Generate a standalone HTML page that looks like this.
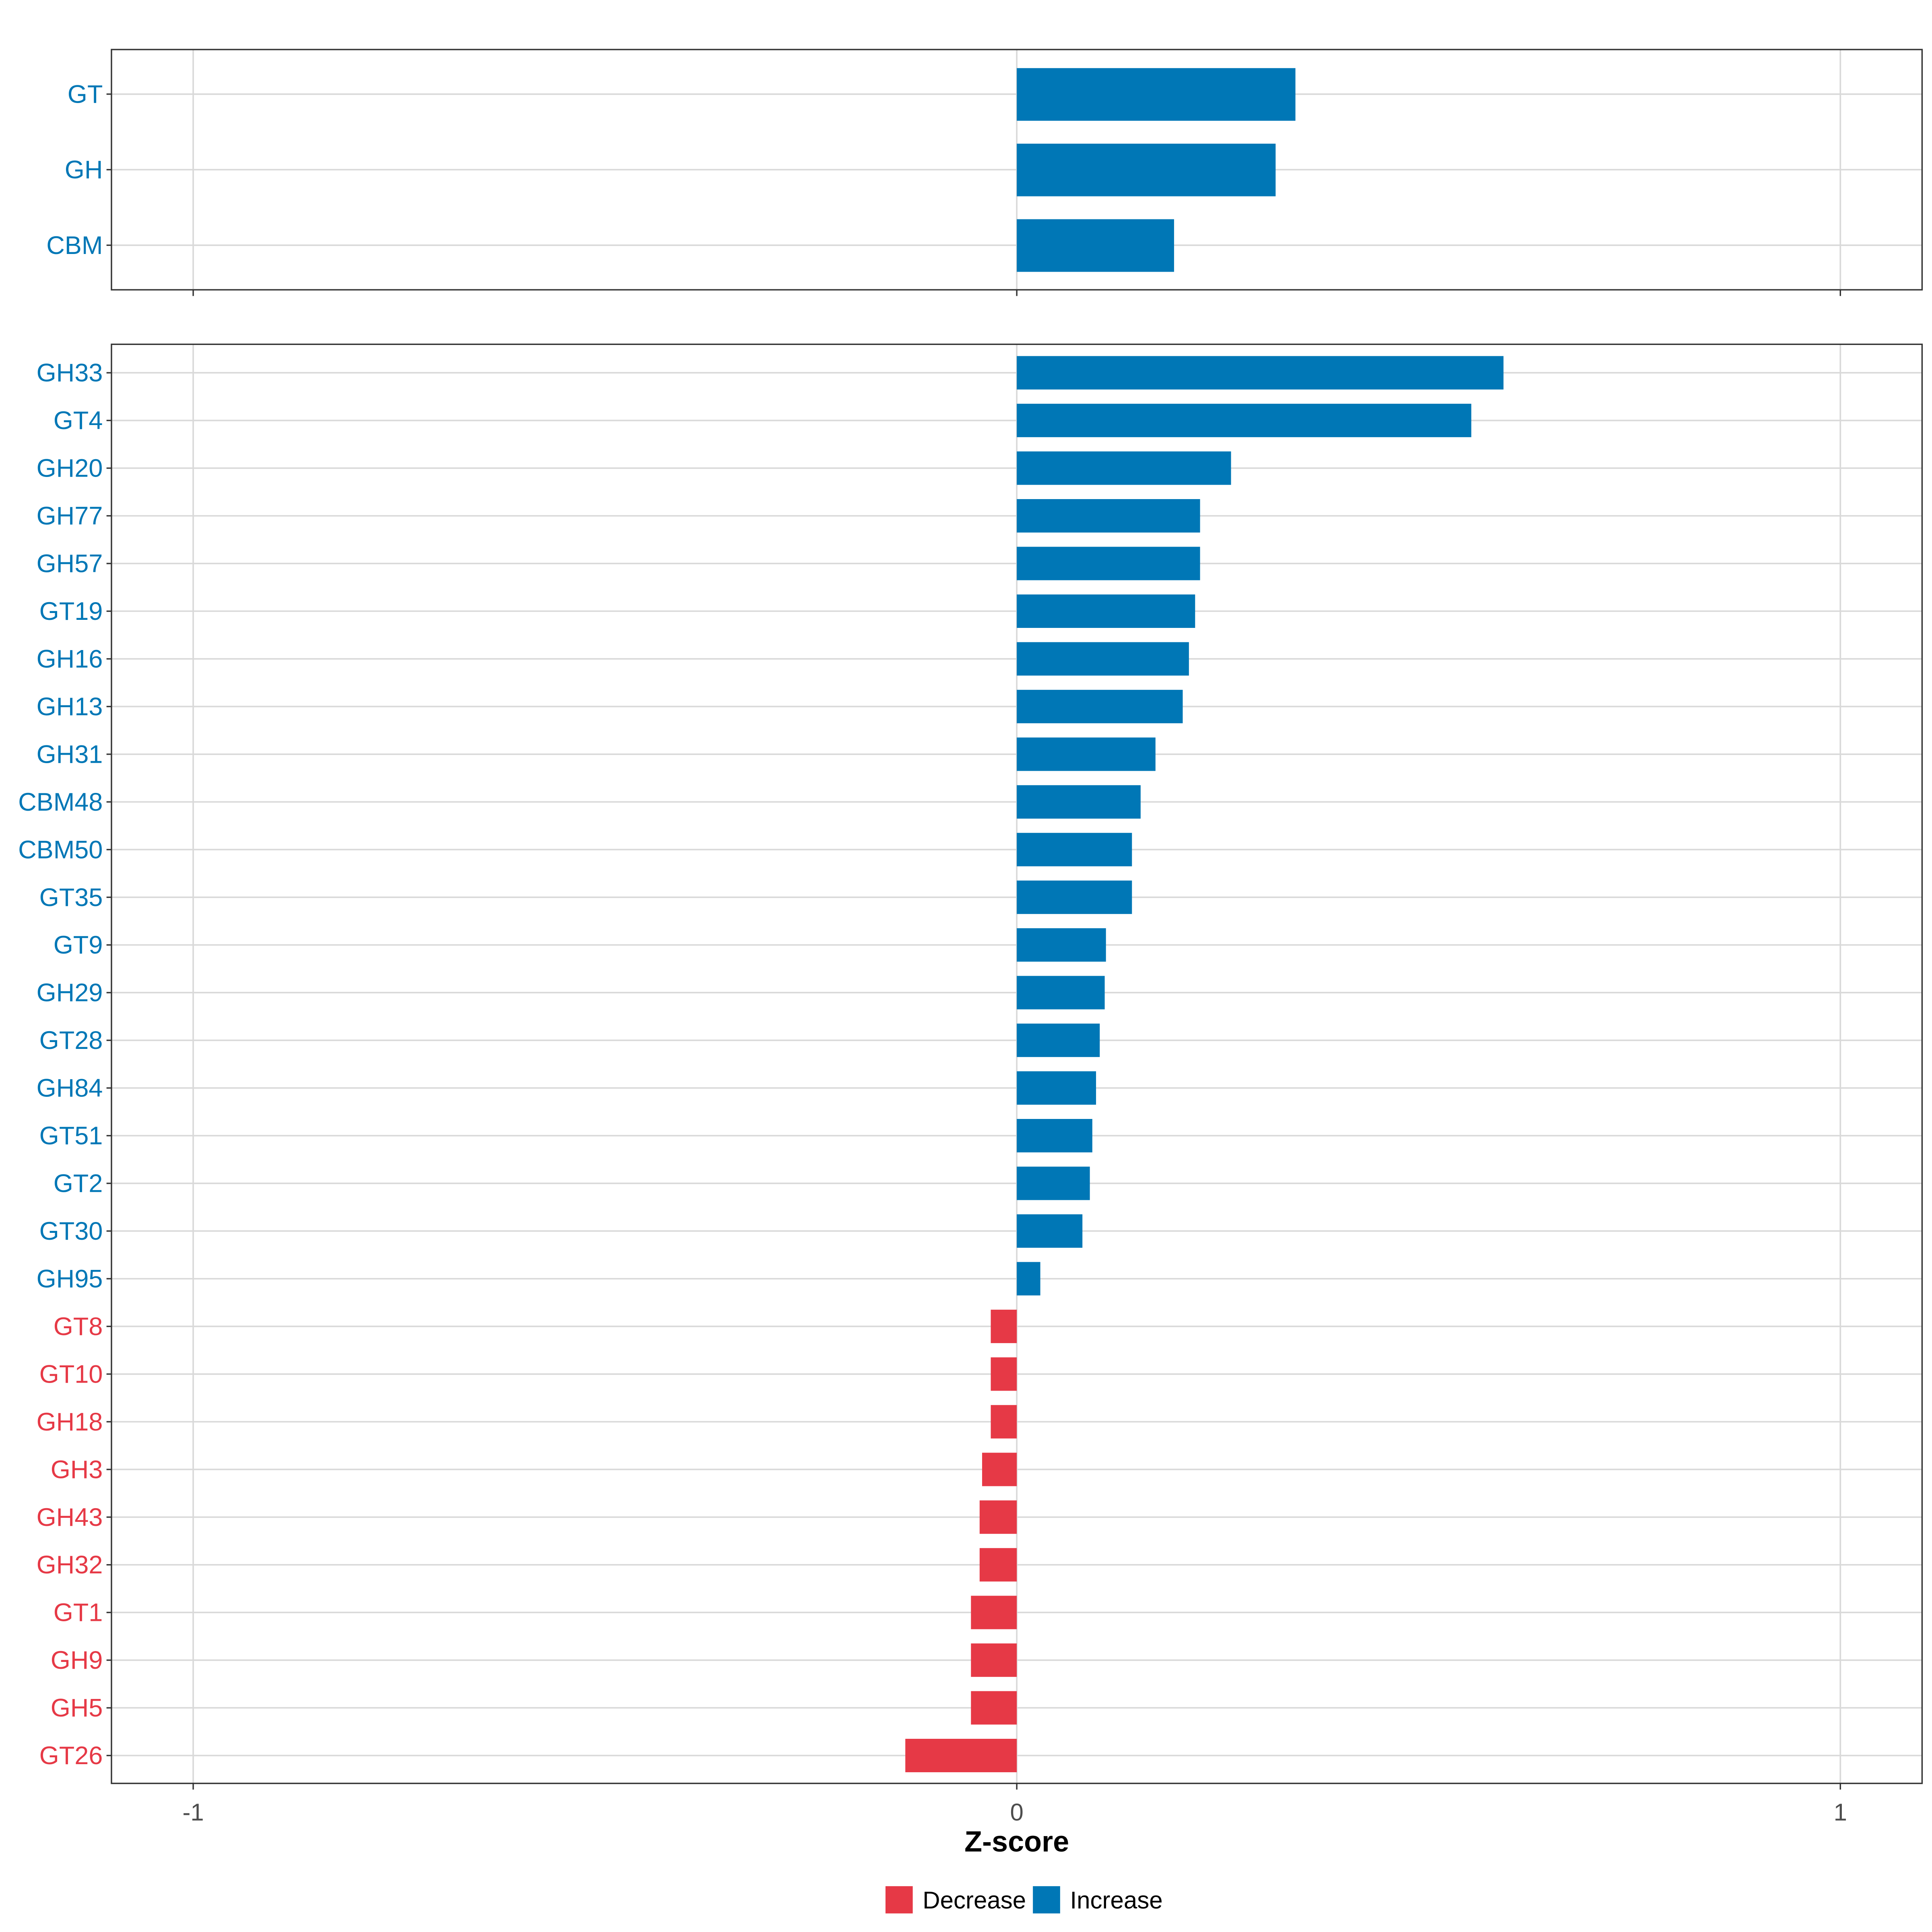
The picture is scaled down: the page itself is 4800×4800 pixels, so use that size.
<!DOCTYPE html>
<html><head><meta charset="utf-8"><style>html,body{margin:0;padding:0;background:#fff}svg{display:block}</style></head>
<body>
<svg width="4800" height="4800" viewBox="0 0 1560 1560" xmlns="http://www.w3.org/2000/svg" font-family="Liberation Sans, Arial, sans-serif">
<rect width="1560" height="1560" fill="#fff"/>
<!-- top panel -->
<g stroke="#d9d9d9" stroke-width="1.2">
<line x1="156" y1="40" x2="156" y2="234"/><line x1="821" y1="40" x2="821" y2="234"/><line x1="1486" y1="40" x2="1486" y2="234"/>
<line x1="90" y1="76" x2="1552" y2="76"/><line x1="90" y1="137" x2="1552" y2="137"/><line x1="90" y1="198" x2="1552" y2="198"/>
</g>
<g fill="#0077b6">
<rect x="821" y="55" width="225" height="42.5"/>
<rect x="821" y="116" width="209" height="42.5"/>
<rect x="821" y="177" width="127" height="42.5"/>
</g>
<rect x="90" y="40" width="1462" height="194" fill="none" stroke="#333" stroke-width="1.1"/>
<g stroke="#333" stroke-width="1.1">
<line x1="86" y1="76" x2="90" y2="76"/><line x1="86" y1="137" x2="90" y2="137"/><line x1="86" y1="198" x2="90" y2="198"/>
<line x1="156" y1="234" x2="156" y2="239"/><line x1="821" y1="234" x2="821" y2="239"/><line x1="1486" y1="234" x2="1486" y2="239"/>
</g>
<g font-size="20.5" fill="#0077b6" text-anchor="end">
<text x="83" y="83">GT</text><text x="83" y="144">GH</text><text x="83" y="205">CBM</text>
</g>
<!-- bottom panel -->
<g stroke="#d9d9d9" stroke-width="1.2">
<line x1="156" y1="278" x2="156" y2="1440"/><line x1="821" y1="278" x2="821" y2="1440"/><line x1="1486" y1="278" x2="1486" y2="1440"/>
</g>
<g id="rows"></g>
<script>
(function(){
var d=[["GH33",1214],["GT4",1188],["GH20",994],["GH77",969],["GH57",969],["GT19",965],["GH16",960],["GH13",955],["GH31",933],["CBM48",921],["CBM50",914],["GT35",914],["GT9",893],["GH29",892],["GT28",888],["GH84",885],["GT51",882],["GT2",880],["GT30",874],["GH95",840],["GT8",800],["GT10",800],["GH18",800],["GH3",793],["GH43",791],["GH32",791],["GT1",784],["GH9",784],["GH5",784],["GT26",731]];
var ns="http://www.w3.org/2000/svg",g=document.getElementById("rows");
function el(t,a,txt){var e=document.createElementNS(ns,t);for(var k in a)e.setAttribute(k,a[k]);if(txt)e.textContent=txt;g.appendChild(e);}
d.forEach(function(r,i){var y=301+i*38.5;var c=r[1]>821?"#0077b6":"#e63946";
el("line",{x1:90,y1:y,x2:1552,y2:y,stroke:"#d9d9d9","stroke-width":1.2});
var x=Math.min(821,r[1]),w=Math.abs(r[1]-821);
el("rect",{x:x,y:y-13.5,width:w,height:27,fill:c});
el("line",{x1:86,y1:y,x2:90,y2:y,stroke:"#333","stroke-width":1.1});
el("text",{x:83,y:y+7,"font-size":20.5,fill:c,"text-anchor":"end"},r[0]);
});
})();
</script>
<rect x="90" y="278" width="1462" height="1162" fill="none" stroke="#333" stroke-width="1.1"/>
<g stroke="#333" stroke-width="1.1">
<line x1="156" y1="1440" x2="156" y2="1445"/><line x1="821" y1="1440" x2="821" y2="1445"/><line x1="1486" y1="1440" x2="1486" y2="1445"/>
</g>
<g font-size="19.5" fill="#4d4d4d" text-anchor="middle">
<text x="156" y="1470">-1</text><text x="821" y="1470">0</text><text x="1486" y="1470">1</text>
</g>
<text x="821" y="1495" font-size="23.4" font-weight="bold" text-anchor="middle" fill="#000">Z-score</text>
<rect x="715" y="1523" width="22" height="22" fill="#e63946"/>
<text x="745" y="1541" font-size="19.5" fill="#000">Decrease</text>
<rect x="834" y="1523" width="22" height="22" fill="#0077b6"/>
<text x="864" y="1541" font-size="19.5" fill="#000">Increase</text>
</svg>
</body></html>
